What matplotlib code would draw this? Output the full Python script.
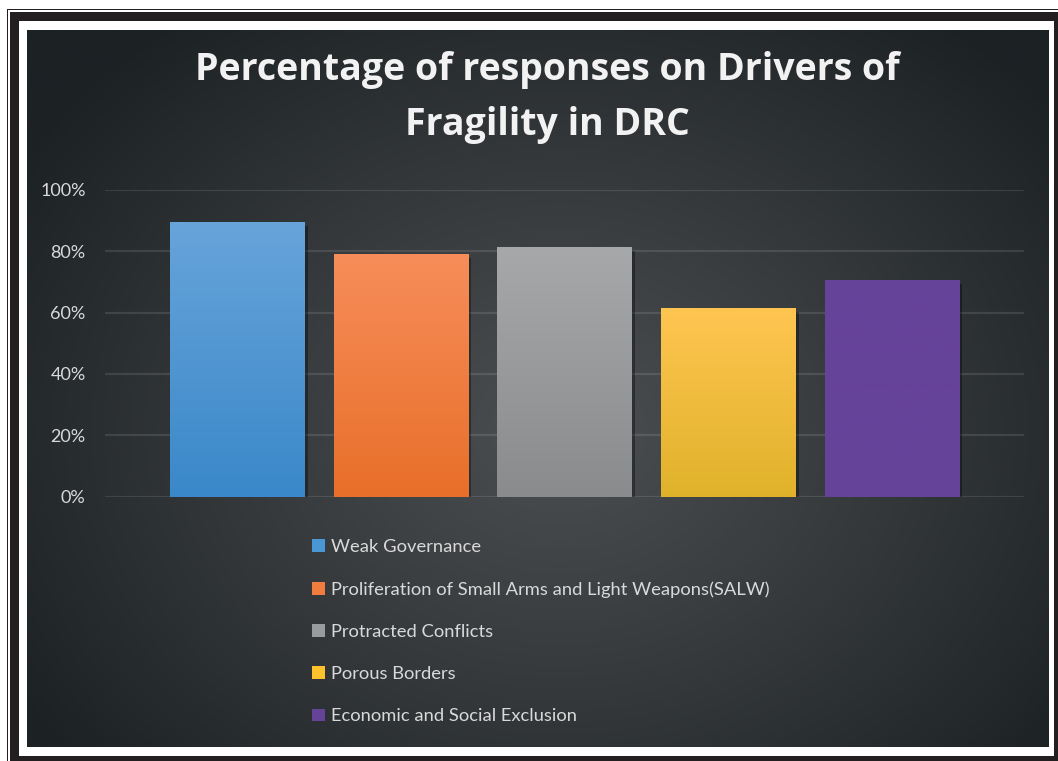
import numpy as np
import matplotlib
matplotlib.use("Agg")
import matplotlib.pyplot as plt
from matplotlib.patches import Rectangle, Patch
from matplotlib.colors import to_rgb
import matplotlib.patheffects as pe

# ---- data ----
categories = [
    "Weak Governance",
    "Proliferation of Small Arms and Light Weapons(SALW)",
    "Protracted Conflicts",
    "Porous Borders",
    "Economic and Social Exclusion",
]
values = [89.4, 79.0, 81.3, 61.4, 70.5]
tick_values = [0, 20, 40, 60, 80, 100]
tick_labels = ["0%", "20%", "40%", "60%", "80%", "100%"]
title_lines = ["Percentage of responses on Drivers of", "Fragility in DRC"]

# bar fills: (top colour, bottom colour)
bar_gradients = [
    ("#67a4da", "#3a88c9"),
    ("#f78d5a", "#e86f29"),
    ("#a6a8a9", "#898b8d"),
    ("#ffc551", "#e0b22a"),
    ("#654399", "#654399"),
]
legend_colors = ["#4a97d6", "#f07c3e", "#999b9d", "#fcc12b", "#654399"]

W, H = 1058, 761
FONT = "Lato"

fig = plt.figure(figsize=(W / 100, H / 100), dpi=100)
fig.patch.set_facecolor("white")

# ---- page frame and dark panel (pixel coordinates) ----
bg = fig.add_axes([0, 0, 1, 1])
bg.set_xlim(0, W)
bg.set_ylim(H, 0)
bg.axis("off")
frame_col = "#231f20"
bg.add_patch(Rectangle((7, 9), W, H, facecolor=frame_col, edgecolor="none"))
bg.add_patch(Rectangle((8, 10), W, H, facecolor="white", edgecolor="none"))
bg.add_patch(Rectangle((10, 12), W, H, facecolor=frame_col, edgecolor="none"))
bg.add_patch(Rectangle((19, 21), 1054 - 19, 756 - 21, facecolor="white", edgecolor="none"))

px0, px1, py0, py1 = 27, 1049, 30, 747
gx = np.linspace(px0, px1, 600)
gy = np.linspace(py0, py1, 420)
X, Y = np.meshgrid(gx, gy)
d = np.sqrt(((X - 560) / 640.0) ** 2 + ((Y - 430) / 520.0) ** 2)
t = np.clip(d, 0, 1) ** 1.1
c_in = np.array(to_rgb("#4b4e51"))
c_out = np.array(to_rgb("#1c2124"))
img = c_in[None, None, :] * (1 - t[..., None]) + c_out[None, None, :] * t[..., None]
bg.imshow(img, extent=(px0, px1, py1, py0), aspect="auto", interpolation="bilinear", zorder=1)
bg.set_xlim(0, W)
bg.set_ylim(H, 0)

# ---- bar chart ----
ax = fig.add_axes([105 / W, 1 - 496.5 / H, (1024 - 105) / W, (496.5 - 190) / H])
ax.set_facecolor("none")
x = np.arange(len(categories))
bars = ax.bar(
    x, values, width=0.82, color=legend_colors, zorder=3,
    path_effects=[pe.SimplePatchShadow(offset=(2.5, -2.5), shadow_rgbFace="black", alpha=0.35), pe.Normal()],
)
for bar, (top, bot) in zip(bars, bar_gradients):
    x0, w, h = bar.get_x(), bar.get_width(), bar.get_height()
    ct, cb = np.array(to_rgb(top)), np.array(to_rgb(bot))
    s = np.linspace(0, 1, 256)[:, None]
    grad = (ct * (1 - s) + cb * s)[:, None, :]
    im = ax.imshow(grad, extent=(x0, x0 + w, 0, h), aspect="auto", zorder=4, interpolation="bilinear")
    im.set_clip_path(bar)

ax.set_xlim(-0.81, 4.81)
ax.set_ylim(0, 100)
ax.set_yticks(tick_values)
ax.set_yticklabels(tick_labels)
ax.set_xticks([])
ax.yaxis.grid(True, color="#ffffff", alpha=0.11, linewidth=1.6, zorder=0)
ax.set_axisbelow(True)
ax.tick_params(axis="y", length=0, pad=14, labelcolor="#d9d9d9", labelsize=13)
for lab in ax.get_yticklabels():
    lab.set_fontfamily(FONT)
for sp in ax.spines.values():
    sp.set_visible(False)

# ---- title ----
for line, base in zip(title_lines, [80, 135]):
    fig.text(547 / W, 1 - base / H, line, ha="center", va="baseline",
             fontsize=27, fontweight="bold", color="#f2f2f2", fontfamily="Open Sans")

# ---- legend ----
handles = [Patch(facecolor=c, edgecolor="none") for c in legend_colors]
leg = fig.legend(
    handles, categories, loc="upper left", bbox_to_anchor=(312 / W, 1 - 539 / H),
    frameon=False, borderpad=0, borderaxespad=0,
    handlelength=0.7, handleheight=0.7, handletextpad=0.33, labelspacing=1.43,
    prop={"family": FONT, "size": 13.2},
)
for txt in leg.get_texts():
    txt.set_color("#d9d9d9")

fig.savefig("out.png", dpi=100, facecolor=fig.get_facecolor())
